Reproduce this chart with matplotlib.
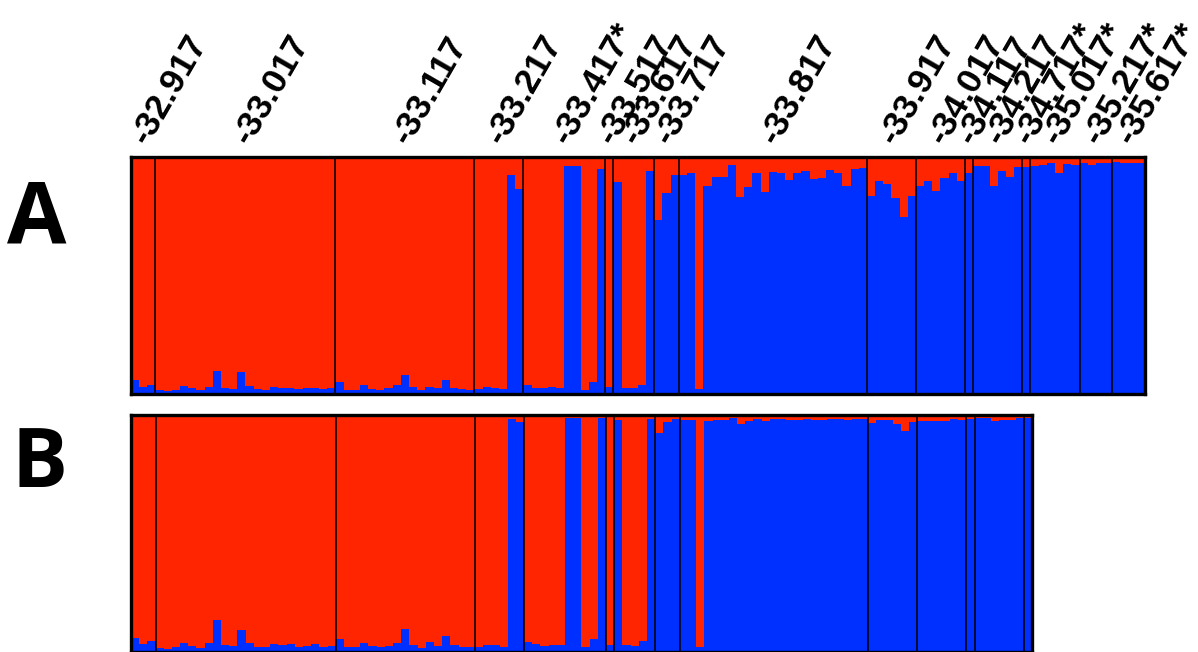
import numpy as np
import matplotlib
matplotlib.use('Agg')
import matplotlib.pyplot as plt

# population labels (latitude) and number of individuals per population
pop_labels = ['-32.917', '-33.017', '-33.117', '-33.217', '-33.417*', '-33.517',
              '-33.617', '-33.717', '-33.817', '-33.917', '-34.017', '-34.117',
              '-34.217', '-34.717*', '-35.017*', '-35.217*', '-35.617*']
pop_sizes = [3, 22, 17, 6, 10, 1, 5, 3, 23, 6, 6, 1, 6, 1, 6, 4, 4]

# panel A: blue cluster membership per individual (red = 1 - blue)
blue_a = [
    0.06, 0.03, 0.04,
    0.017, 0.014, 0.019, 0.034, 0.026, 0.017, 0.031, 0.097, 0.024, 0.02, 0.091,
    0.034, 0.02, 0.017, 0.031, 0.027, 0.027, 0.02, 0.027, 0.027, 0.02, 0.024,
    0.051, 0.017, 0.017, 0.036, 0.02, 0.017, 0.024, 0.037, 0.079, 0.031, 0.017,
    0.031, 0.024, 0.057, 0.026, 0.02, 0.016,
    0.02, 0.031, 0.027, 0.02, 0.926, 0.864,
    0.036, 0.027, 0.024, 0.031, 0.026, 0.961, 0.961, 0.019, 0.051, 0.95,
    0.031,
    0.893, 0.024, 0.024, 0.04, 0.943,
    0.736, 0.85, 0.923,
    0.923, 0.931, 0.02, 0.876, 0.917, 0.917, 0.966, 0.831, 0.874, 0.931, 0.854,
    0.936, 0.931, 0.904, 0.934, 0.94, 0.907, 0.91, 0.947, 0.931, 0.877, 0.95, 0.953,
    0.837, 0.9, 0.886, 0.829, 0.747, 0.837,
    0.876, 0.897, 0.857, 0.91, 0.931, 0.9,
    0.934,
    0.96, 0.96, 0.876, 0.943, 0.917, 0.957,
    0.957,
    0.963, 0.967, 0.974, 0.934, 0.969, 0.967,
    0.974, 0.967, 0.974, 0.974,
    0.977, 0.974, 0.974, 0.974,
]

# panel B: first 14 populations only
blue_b = [
    0.057, 0.034, 0.046,
    0.016, 0.013, 0.019, 0.036, 0.024, 0.016, 0.036, 0.134, 0.029, 0.024, 0.094,
    0.039, 0.021, 0.019, 0.033, 0.029, 0.033, 0.021, 0.024, 0.033, 0.021, 0.024,
    0.054, 0.019, 0.019, 0.037, 0.024, 0.019, 0.024, 0.036, 0.097, 0.031, 0.016,
    0.041, 0.024, 0.067, 0.029, 0.021, 0.019,
    0.023, 0.031, 0.029, 0.02, 0.984, 0.971,
    0.041, 0.034, 0.024, 0.031, 0.031, 0.989, 0.989, 0.02, 0.054, 0.989,
    0.031,
    0.977, 0.029, 0.024, 0.047, 0.984,
    0.923, 0.971, 0.984,
    0.981, 0.981, 0.023, 0.974, 0.98, 0.98, 0.989, 0.96, 0.974, 0.983, 0.974,
    0.983, 0.983, 0.977, 0.981, 0.984, 0.981, 0.977, 0.984, 0.984, 0.977, 0.984, 0.984,
    0.967, 0.977, 0.98, 0.96, 0.934, 0.97,
    0.974, 0.974, 0.974, 0.974, 0.983, 0.977,
    0.984,
    0.989, 0.989, 0.974, 0.98, 0.98, 0.989,
    0.989,
]

RED = '#ff2500'
BLUE = '#0030ff'


def structure_panel(ax, blue, sizes):
    blue = np.array(blue)
    x = np.arange(len(blue))
    ax.bar(x, blue, width=1.0, align='edge', color=BLUE, linewidth=0)
    ax.bar(x, 1 - blue, bottom=blue, width=1.0, align='edge', color=RED, linewidth=0)
    for b in np.cumsum(sizes)[:-1]:
        ax.axvline(b, color='black', lw=1.1)
    ax.set_xlim(0, len(blue))
    ax.set_ylim(0, 1)
    ax.set_xticks([])
    ax.set_yticks([])
    for s in ax.spines.values():
        s.set_linewidth(2.4)
        s.set_color('black')


fig = plt.figure(figsize=(11.98, 6.52), dpi=100)
ax_a = fig.add_axes([0.1093, 0.3957, 0.8464, 0.3635])
ax_b = fig.add_axes([0.1093, 0.0, 0.7521, 0.3635])

structure_panel(ax_a, blue_a, pop_sizes)
structure_panel(ax_b, blue_b, pop_sizes[:14])

# population labels above panel A
edges = np.concatenate([[0], np.cumsum(pop_sizes)])
centers = (edges[:-1] + edges[1:]) / 2
for c, lab in zip(centers, pop_labels):
    ax_a.annotate(lab, xy=(c, 1), xycoords=('data', 'axes fraction'),
                  xytext=(-3, 11), textcoords='offset points',
                  rotation=60, rotation_mode='anchor', ha='left', va='center',
                  fontsize=25.5, fontweight='bold', family='Liberation Sans')

fig.text(0.006, 0.627, 'A', fontsize=62, fontweight='bold', family='Open Sans',
         ha='left', va='baseline')
fig.text(0.010, 0.253, 'B', fontsize=60, fontweight='bold', family='Open Sans',
         ha='left', va='baseline')

fig.savefig('out.png', dpi=100)
